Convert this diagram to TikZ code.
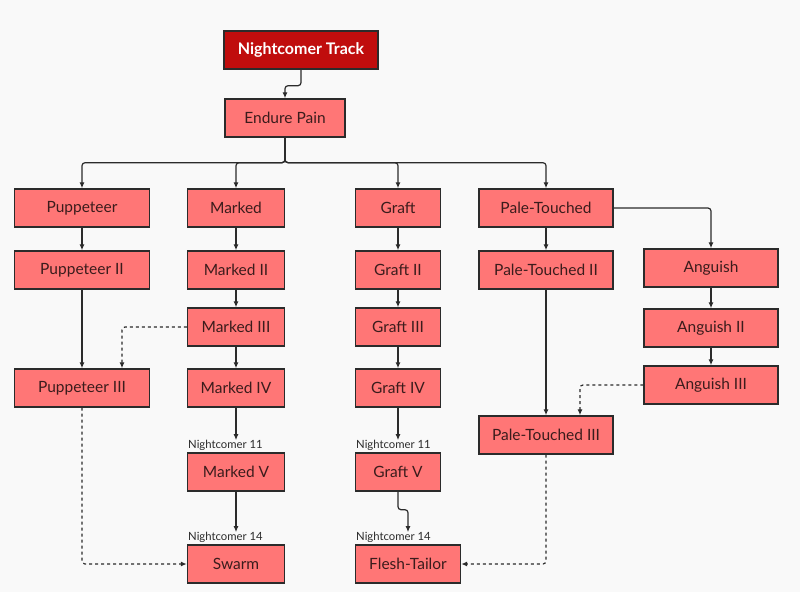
\documentclass[tikz,border=0pt]{standalone}
\usepackage{fontspec}
\setmainfont{Lato}
\usetikzlibrary{arrows.meta}
\definecolor{bgcol}{HTML}{F9F9F9}
\definecolor{boxcol}{HTML}{FF7676}
\definecolor{headcol}{HTML}{C00D0D}
\definecolor{linecol}{HTML}{2B2B2B}
\definecolor{txtcol}{HTML}{3B1C1C}
\tikzset{
  box/.style={draw=linecol,line width=1.4pt,fill=boxcol,text=txtcol,minimum height=38pt,
    inner sep=0pt,font=\fontsize{15.5}{17}\selectfont},
  headbox/.style={box,fill=headcol,text=white,font=\fontsize{16}{18}\selectfont\bfseries},
  lvl/.style={anchor=south west,inner sep=0pt,text=linecol,font=\fontsize{11.3}{13}\selectfont},
  link/.style={draw=linecol,line width=1.2pt,rounded corners=3pt,-{Latex[length=6pt,width=5pt]}},
  optlink/.style={link,dashed,dash pattern=on 3pt off 3pt}
}
\begin{document}
\begin{tikzpicture}[x=1pt,y=-1pt]
\useasboundingbox[fill=bgcol] (0,0) rectangle (800,592);
\node[headbox,minimum width=154pt] (nt) at (301,50) {Nightcomer Track};
\node[box,minimum width=120pt] (ep) at (285,118) {Endure Pain};
% first row
\node[box,minimum width=135pt] (pup) at (82,208) {Puppeteer};
\node[box,minimum width=97pt] (mk) at (236,208) {Marked};
\node[box,minimum width=85pt] (gr) at (398,208) {Graft};
\node[box,minimum width=134pt] (pt) at (546,208) {Pale-Touched};
% second row
\node[box,minimum width=135pt] (pup2) at (82,270) {Puppeteer II};
\node[box,minimum width=97pt] (mk2) at (236,270) {Marked II};
\node[box,minimum width=85pt] (gr2) at (398,270) {Graft II};
\node[box,minimum width=134pt] (pt2) at (546,270) {Pale-Touched II};
\node[box,minimum width=134pt] (ang) at (711,268) {Anguish};
% third row
\node[box,minimum width=97pt] (mk3) at (236,327) {Marked III};
\node[box,minimum width=85pt] (gr3) at (398,327) {Graft III};
\node[box,minimum width=134pt] (ang2) at (711,328) {Anguish II};
% fourth row
\node[box,minimum width=135pt] (pup3) at (82,388) {Puppeteer III};
\node[box,minimum width=97pt] (mk4) at (236,388) {Marked IV};
\node[box,minimum width=85pt] (gr4) at (398,388) {Graft IV};
\node[box,minimum width=134pt] (ang3) at (711,385) {Anguish III};
\node[box,minimum width=134pt] (pt3) at (546,435) {Pale-Touched III};
% fifth row
\node[box,minimum width=97pt] (mk5) at (236,472) {Marked V};
\node[box,minimum width=85pt] (gr5) at (398,472) {Graft V};
\node[lvl] (lm11) at (188,451) {Nightcomer 11};
\node[lvl] (lg11) at (356,451) {Nightcomer 11};
% last row
\node[box,minimum width=97pt] (sw) at (236,564) {Swarm};
\node[box,minimum width=105pt] (ft) at (408,564) {Flesh-Tailor};
\node[lvl] (lm14) at (188,543) {Nightcomer 14};
\node[lvl] (lg14) at (356,543) {Nightcomer 14};
% connectors
\draw[link] (nt.south) -- ++(0,16) -| (ep.north);
\draw[link] (ep.south) -- ++(0,25) -| (pup.north);
\draw[link] (ep.south) -- ++(0,25) -| (mk.north);
\draw[link] (ep.south) -- ++(0,25) -| (gr.north);
\draw[link] (ep.south) -- ++(0,25) -| (pt.north);
\draw[link] (pup) -- (pup2);
\draw[link] (pup2) -- (pup3);
\draw[link] (mk) -- (mk2);
\draw[link] (mk2) -- (mk3);
\draw[link] (mk3) -- (mk4);
\draw[link] (mk4.south) -- (mk4.south |- lm11.north);
\draw[link] (mk5.south) -- (mk5.south |- lm14.north);
\draw[link] (gr) -- (gr2);
\draw[link] (gr2) -- (gr3);
\draw[link] (gr3) -- (gr4);
\draw[link] (gr4.south) -- (gr4.south |- lg11.north);
\draw[link] (gr5.south) -- ++(0,18) -| (ft.north |- lg14.north);
\draw[link] (pt) -- (pt2);
\draw[link] (pt2) -- (pt3);
\draw[link] (pt.east) -| (ang.north);
\draw[link] (ang) -- (ang2);
\draw[link] (ang2) -- (ang3);
\draw[optlink] (mk3.west) -| ([xshift=40pt]pup3.north);
\draw[optlink] (ang3.west) -| ([xshift=34pt]pt3.north);
\draw[optlink] (pup3.south) |- (sw.west);
\draw[optlink] (pt3.south) |- (ft.east);
\end{tikzpicture}
\end{document}
